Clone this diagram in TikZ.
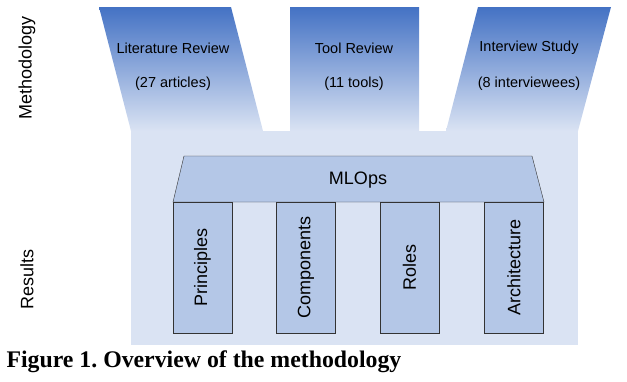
\documentclass[tikz,border=0pt]{standalone}
\usepackage{fontspec}
\setmainfont{Liberation Serif}
\setsansfont{Liberation Sans}
\usetikzlibrary{positioning}
\definecolor{mdark}{HTML}{4472C4}
\definecolor{mlight}{HTML}{DAE3F3}
\definecolor{mmid}{HTML}{B4C7E7}

\begin{document}
\begin{tikzpicture}[x=1pt,y=-1pt,font=\sffamily\fontsize{14.5}{17}\selectfont,
  funnel/.style={top color=mdark,bottom color=mlight,draw=none},
  pillar/.style={draw=black!80,fill=mmid,rotate=90,minimum width=131pt,minimum height=59pt,inner sep=0pt,font=\sffamily\fontsize{18}{21}\selectfont},
  side/.style={rotate=90,font=\sffamily\fontsize{18}{21}\selectfont}]
  \useasboundingbox (0,0) rectangle (627,381);
  % funnels and results area
  \fill[mlight] (131,130.5) rectangle (578,345);
  \shade[funnel] (99,7)--(231,7)--(263,131)--(131,131)--cycle;
  \shade[funnel] (290,7)--(419,7)--(419,131)--(290,131)--cycle;
  \shade[funnel] (478,7)--(611,7)--(578,131)--(446,131)--cycle;
  \node (lit) at (173,48) {Literature Review}; \node (litn) at (173,84) {(27 articles)};
  \node (tool) at (354,48) {Tool Review}; \node (tooln) at (354,84) {(11 tools)};
  \node (intv) at (529,48) {Interview Study}; \node (intvn) at (529,84) {(8 interviewees)};
  % MLOps roof and pillars
  \draw[draw=black!80,fill=mmid] (184,156)--(532,156)--(544,202)--(173,202)--cycle;
  \node[font=\sffamily\fontsize{18}{21}\selectfont] (mlops) at (358,180) {MLOps};
  \node[pillar] (princ) at (202.5,267.5) {Principles};
  \node[pillar] (comp) at (306,267.5) {Components};
  \node[pillar] (roles) at (409.5,267.5) {Roles};
  \node[pillar] (arch) at (514,267.5) {Architecture};
  \node[side] (meth) at (27,68) {Methodology};
  \node[side] (res) at (27,279) {Results};
  \node[anchor=base west,font=\rmfamily\bfseries\fontsize{23.8}{28}\selectfont] (cap) at (3,367) {\frenchspacing Figure 1. Overview of the methodology};
\end{tikzpicture}
\end{document}
